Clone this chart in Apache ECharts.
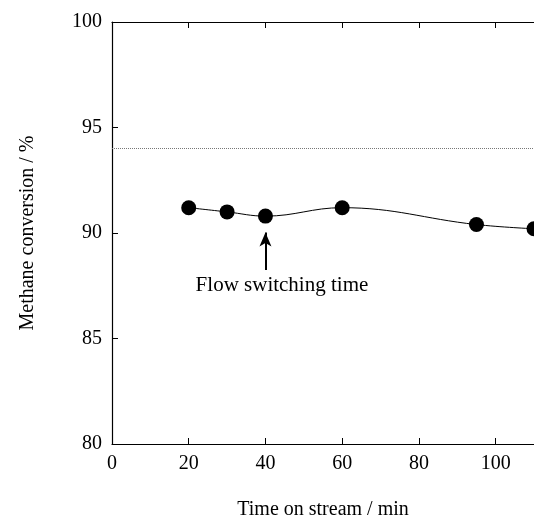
<!DOCTYPE html>
<html><head><meta charset="utf-8">
<script src="https://cdn.jsdelivr.net/npm/echarts@6/dist/echarts.min.js"></script>
<style>html,body{margin:0;padding:0;background:#fff}#c{width:534px;height:516px}</style>
</head><body><div id="c"></div>
<script>
const timeMin = [20, 30, 40, 60, 95, 110];
const conversion = [91.2, 91.0, 90.8, 91.2, 90.4, 90.2];
const equilibriumLevel = 94.0;
const xTicks = [0, 20, 40, 60, 80, 100];
const yTicks = [80, 85, 90, 95, 100];
const arrowX = 40, arrowFrom = 88.25, arrowTo = 90.02;
const noteText = 'Flow switching time';
const notePos = [44.3, 87.5];

const font = 'Liberation Serif, Times New Roman, serif';
const chart = echarts.init(document.getElementById('c'));
const axisLine = {show: true, lineStyle: {color: '#000', width: 1.2}};
chart.setOption({
  animation: false,
  grid: {left: 112, right: 0, top: 22, bottom: 72, containLabel: false, outerBoundsMode: 'none'},
  xAxis: [{
    type: 'value', min: 0, max: 110, interval: 20,
    name: 'Time on stream / min', nameLocation: 'middle', nameGap: 56,
    nameTextStyle: {fontFamily: font, fontSize: 20, color: '#000'},
    axisLine: axisLine, axisTick: {inside: true, length: 6, lineStyle: {color: '#000'}},
    axisLabel: {fontFamily: font, fontSize: 20, color: '#000', margin: 10, showMaxLabel: false,
      formatter: v => xTicks.includes(v) ? String(v) : ''},
    splitLine: {show: false}
  }, {
    type: 'value', position: 'top', min: 0, max: 110, interval: 20,
    axisLine: axisLine, axisTick: {inside: true, length: 6, lineStyle: {color: '#000'}},
    axisLabel: {show: false}, splitLine: {show: false}
  }],
  yAxis: {
    type: 'value', min: 80, max: 100, interval: 5,
    name: 'Methane conversion / %', nameLocation: 'middle', nameGap: 74,
    nameTextStyle: {fontFamily: font, fontSize: 20, color: '#000'},
    axisLine: axisLine, axisTick: {inside: true, length: 6, lineStyle: {color: '#000'}},
    axisLabel: {fontFamily: font, fontSize: 20, color: '#000', margin: 10,
      formatter: v => yTicks.includes(v) ? String(v) : ''},
    splitLine: {show: false}
  },
  series: [{
    type: 'line', data: timeMin.map((t, i) => [t, conversion[i]]),
    smooth: 0.4, symbol: 'circle', symbolSize: 15,
    itemStyle: {color: '#000'}, lineStyle: {color: '#000', width: 1},
    markLine: {
      silent: true, animation: false,
      data: [
        [{coord: [0, equilibriumLevel], symbol: 'none', lineStyle: {type: 'dotted', color: '#777', width: 1}},
         {coord: [110, equilibriumLevel], symbol: 'none'}],
        [{coord: [arrowX, arrowFrom], symbol: 'none', lineStyle: {type: 'solid', color: '#000', width: 2}},
         {coord: [arrowX, arrowTo], symbol: 'arrow', symbolSize: [9, 14]}]
      ],
      label: {show: false}
    },
    markPoint: {
      silent: true,
      data: [{coord: notePos, symbol: 'circle', symbolSize: 1, itemStyle: {color: 'rgba(0,0,0,0)'},
        label: {show: true, position: 'inside', formatter: noteText, fontFamily: font, fontSize: 21, color: '#000'}}]
    }
  }]
});
</script></body></html>
